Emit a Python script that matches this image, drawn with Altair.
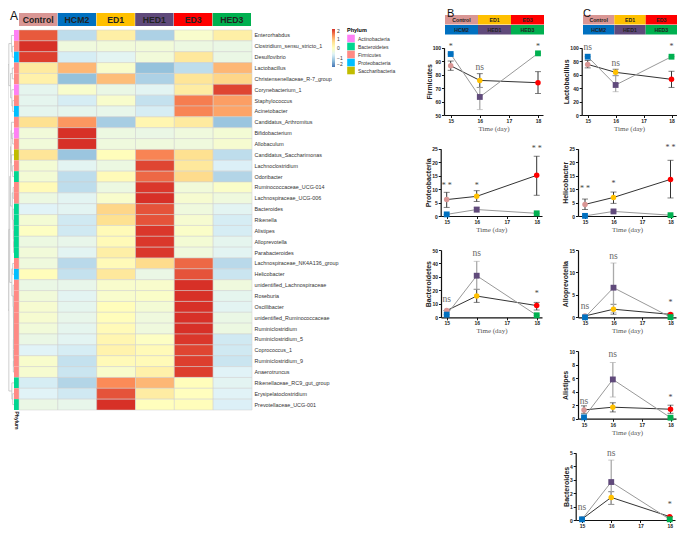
import altair as alt
import pandas as pd

W, H = 669, 524

# ---------- heat map values ----------
groups = ["Control", "HCM2", "ED1", "HED1", "ED3", "HED3"]
genera = ["Enterorhabdus", "Clostridium_sensu_stricto_1", "Desulfovibrio", "Lactobacillus",
          "Christensenellaceae_R-7_group", "Corynebacterium_1", "Staphylococcus", "Acinetobacter",
          "Candidatus_Arthromitus", "Bifidobacterium", "Allobaculum", "Candidatus_Saccharimonas",
          "Lachnoclostridium", "Odoribacter", "Ruminococcaceae_UCG-014", "Lachnospiraceae_UCG-006",
          "Bacteroides", "Rikenella", "Alistipes", "Alloprevotella", "Parabacteroides",
          "Lachnospiraceae_NK4A136_group", "Helicobacter", "unidentified_Lachnospiraceae", "Roseburia",
          "Oscillibacter", "unidentified_Ruminococcaceae", "Ruminiclostridium", "Ruminiclostridium_5",
          "Coprococcus_1", "Ruminiclostridium_9", "Anaerotruncus", "Rikenellaceae_RC9_gut_group",
          "Erysipelatoclostridium", "Prevotellaceae_UCG-001"]
z_control = [1.7, 2.0, 1.9, .45, .3, -.55, -.55, -.55, .65, -.3, -.3, .55, -.25, -.25, .1, -.4, -.65, -.25, -.05, -.4, -.3, -.35, .05, -.45, -.3, -.2, -.2, -.3, -.45, -.65, -.15, -.2, -.75, -.65, -.45]
z_hcm2 = [-.95, -.35, -.75, 1.0, -1.3, -.15, -.75, -.55, 1.25, 2.05, 2.05, -1.25, -.6, -.95, -.95, -.6, -.6, -.8, -.8, -.5, -.6, -1.0, -.9, -.5, -.6, -.55, -.5, -.55, -.6, -.75, -.9, -.85, -1.05, -.8, -.5]
z_ed1 = [.35, -.3, -.6, -.15, .95, -.45, -.15, -.5, -1.15, -.4, -.35, .05, -.4, .1, -.4, -.15, .75, .65, .1, .1, .35, .1, .5, -.15, -.15, .05, .05, .1, .2, .25, .1, -.15, 1.35, 1.75, 2.0]
z_hed1 = [-1.1, -.3, -.3, -1.3, -1.1, -.6, -.9, -.75, .2, -.45, -.35, 1.4, 1.85, 1.6, 1.95, 2.05, 1.75, 1.75, 1.95, 1.95, 1.95, .7, -.45, -.15, -.1, -.25, -.35, -.35, -.05, .1, .1, .3, 1.0, .4, .03]
z_ed3 = [-.15, -.4, .5, -.95, .55, .4, 1.45, 1.4, .45, -.35, -.35, .65, .5, .7, -.3, -.2, -.35, -.2, -.1, -.25, -.35, 1.6, 1.75, 2.05, 2.05, 2.05, 2.05, 2.0, 1.95, 1.85, 1.9, 1.9, .05, .02, .05]
z_hed3 = [.35, -.45, -.45, 1.0, .75, 1.85, 1.2, 1.15, -1.25, -.25, -.2, -.95, -.7, -1.05, -.1, -.35, -.6, -.75, -.75, -.55, -.6, -1.0, -.85, -.35, -.55, -.6, -.45, -.4, -.8, -.8, -.85, -.65, -.6, -.65, -.7]
phylum_names = ["Actinobacteria", "Bacteroidetes", "Firmicutes", "Proteobacteria", "Saccharibacteria"]
phyla = "A F P F F A F P F A F S F B F F B B B B B F P F F F F F F F F F B F B".split()
phylum_code = {"A": "Actinobacteria", "B": "Bacteroidetes", "F": "Firmicutes", "P": "Proteobacteria", "S": "Saccharibacteria"}

# ---------- line panels: days, means and error bars ----------
days = [15, 16, 18]
firm_dark, firm_dark_lo, firm_dark_hi = [86.6, 75.7, 74], [83.2, 70.5, 66], [90.1, 80.7, 82.2]
firm_grey, firm_grey_lo, firm_grey_hi = [95.3, 63.4, 95.8], [95.3, 54, 95.8], [95.3, 70.5, 95.8]
lact_dark, lact_dark_lo, lact_dark_hi = [75.2, 63.4, 53], [70, 58.4, 41], [81, 68, 65]
lact_grey, lact_grey_lo, lact_grey_hi = [86.6, 44.6, 86.6], [86.6, 34.6, 86.6], [86.6, 59, 86.6]
prot_dark, prot_dark_lo, prot_dark_hi = [6.1, 7.3, 15.1], [3.2, 5.4, 7.7], [8.8, 9.4, 22.2]
prot_grey, prot_grey_lo, prot_grey_hi = [.6, 2.4, 1.0], [.6, 1.4, 1.0], [.6, 3.2, 1.0]
heli_dark, heli_dark_lo, heli_dark_hi = [4.3, 6.9, 13.6], [2.4, 4.7, 6.7], [6.3, 8.9, 20.7]
heli_grey, heli_grey_lo, heli_grey_hi = [.05, 1.7, .3], [.05, 1.2, .3], [.05, 2.3, .3]
bctd_dark, bctd_dark_lo, bctd_dark_hi = [5, 15.8, 8.7], [5, 11.1, 5.4], [5, 20.8, 11.1]
bctd_grey, bctd_grey_lo, bctd_grey_hi = [2, 30.9, 1.5], [2, 20.8, 1.5], [2, 41.6, 1.5]
allo_dark, allo_dark_lo, allo_dark_hi = [.3, 1.8, .65], [.3, .7, .4], [.3, 2.9, .9]
allo_grey, allo_grey_lo, allo_grey_hi = [0, 6.6, .05], [0, 1.1, .05], [0, 12.1, .05]
alis_dark, alis_dark_lo, alis_dark_hi = [1.3, 1.7, 1.4], [.8, 1.0, .8], [1.9, 2.35, 2.0]
alis_grey, alis_grey_lo, alis_grey_hi = [.2, 5.8, .15], [.2, 3.2, .15], [.2, 8.3, .15]
bact_dark, bact_dark_lo, bact_dark_hi = [.07, 1.68, .25], [.07, 1.16, .25], [.07, 2.1, .25]
bact_grey, bact_grey_lo, bact_grey_hi = [.05, 2.82, .05], [.05, 1.16, .05], [.05, 4.45, .05]

dark_groups = ["Control", "ED1", "ED3"]
grey_groups = ["HCM2", "HED1", "HED3"]
group_colors = {"Control": "#D99694", "HCM2": "#0070C0", "ED1": "#FFC000", "HED1": "#604A7B", "ED3": "#FF0000", "HED3": "#00B050"}
phylum_colors = ["#FF80F4", "#00D690", "#FF8A85", "#00BFFF", "#C1BC00"]
heat_colors = ["#4575B4", "#91BFDB", "#E0F3F8", "#FFFFBF", "#FEE090", "#FC8D59", "#D73027"]
heat_stops = [-2, -1.333, -.667, 0, .667, 1.333, 2]

# dendrogram: (merge height, child, child); integers are row numbers
top_tree = (12, (6, 0, (4, 1, 2)), (8, (4, 3, 4), (5, 5, (3, 6, 7))))
b_tree = (8, (7, (6, 8, (3, 9, 10)), (6, 11, (3, 12, 13))),
          (4, (2, 14, 15), (2, 16, (1.5, 17, (1.2, 18, (1, 19, 20))))))
c_tree = (5, (3, 21, 22), (2, 23, (1.5, 24, (1.2, 25, (1, 26, (1, 27, (1.5, 28, (1.2, 29, (1.5, 30, 31)))))))))
d_tree = (5, 32, (3, 33, 34))
tree = (14, top_tree, (12, (10, b_tree, c_tree), d_tree))


def walk(node, out):
    if isinstance(node, int):
        return node, 0
    h, a, b = node
    ya, ha = walk(a, out)
    yb, hb = walk(b, out)
    out.append(dict(h1=h, h2=h, y1=ya, y2=yb))
    out.append(dict(h1=ha, h2=h, y1=ya, y2=ya))
    out.append(dict(h1=hb, h2=h, y1=yb, y2=yb))
    return (ya + yb) / 2, h


segments = []
walk(tree, segments)

# ---------- geometry of the figure, in view pixels ----------
HX = [11, 244]
HY = [22, 402]

heat_df = pd.DataFrame([
    dict(genus=g, group=col, z=vals[i])
    for col, vals in zip(groups, [z_control, z_hcm2, z_ed1, z_hed1, z_ed3, z_hed3])
    for i, g in enumerate(genera)
])
strip_df = pd.DataFrame({"genus": genera, "phylum": [phylum_code[p] for p in phyla], "col": "Phylum"})

xh = alt.X("group:N", scale=alt.Scale(domain=groups, range=HX, paddingInner=0, paddingOuter=0), axis=None)
yh = alt.Y("genus:N", scale=alt.Scale(domain=genera, range=HY, paddingInner=0, paddingOuter=0),
           axis=alt.Axis(orient="right", offset=-(W - HX[1]), title=None, domain=False, ticks=False,
                         labelPadding=2, labelFontSize=5.4, labelFont="Liberation Sans", labelColor="#333",
                         labelLimit=200))
heat = alt.Chart(heat_df).mark_rect(stroke="#cfcfcf", strokeWidth=0.5).encode(
    x=xh, y=yh,
    color=alt.Color("z:Q", title=None,
                    scale=alt.Scale(domain=heat_stops, range=heat_colors, clamp=True, interpolate="rgb"),
                    legend=alt.Legend(orient="none", legendX=324, legendY=21, gradientLength=38, gradientThickness=3,
                                      values=[2, 1, 0, -1, -2], labelFontSize=5, labelFont="Liberation Sans",
                                      labelColor="#333", labelOffset=2, direction="vertical")))

strip = alt.Chart(strip_df).mark_rect().encode(
    x=alt.X("col:N", scale=alt.Scale(domain=["Phylum"], range=[6, 11], paddingInner=0, paddingOuter=0),
            axis=alt.Axis(orient="bottom", offset=-(H - HY[1]), title=None, domain=False, ticks=False, labelAngle=90,
                          labelPadding=1, labelFontSize=5, labelFont="Liberation Sans", labelFontWeight="bold",
                          labelColor="#222")),
    y=alt.Y("genus:N", scale=alt.Scale(domain=genera, range=HY, paddingInner=0, paddingOuter=0), axis=None),
    color=alt.Color("phylum:N", scale=alt.Scale(domain=phylum_names, range=phylum_colors),
                    legend=alt.Legend(orient="none", legendX=339, legendY=20, title="Phylum", titleFontSize=5.5,
                                      titleFont="Liberation Sans", titleFontWeight="bold", titlePadding=1,
                                      symbolType="square", symbolSize=58, symbolStrokeWidth=0, rowPadding=0,
                                      labelFontSize=5, labelFont="Liberation Sans", labelColor="#333", labelOffset=3)))

dendro = alt.Chart(pd.DataFrame(segments)).mark_rule(color="#b8b8b8", strokeWidth=0.7).encode(
    x=alt.X("h1:Q", scale=alt.Scale(domain=[0, 14], range=[6, 0]), axis=None),
    x2="h2:Q",
    y=alt.Y("y1:Q", scale=alt.Scale(domain=[-.5, 34.5], range=HY), axis=None),
    y2="y2:Q")

hdr_x = alt.X("group:N", scale=alt.Scale(domain=groups, range=[11, 243], paddingInner=0.01, paddingOuter=0), axis=None)
hdr_y = alt.Y("row:N", scale=alt.Scale(domain=["h"], range=[5, 18], paddingInner=0, paddingOuter=0), axis=None)
hdr_df = pd.DataFrame({"group": groups, "row": "h"})
header = alt.layer(
    alt.Chart(hdr_df).mark_rect().encode(
        x=hdr_x, y=hdr_y,
        color=alt.Color("group:N", scale=alt.Scale(domain=groups, range=[group_colors[g] for g in groups]), legend=None)),
    alt.Chart(hdr_df).mark_text(font="Liberation Sans", fontWeight="bold", fontSize=8.7, color="#222").encode(
        x=hdr_x, y=hdr_y, text="group:N"))


def key_table(rng):
    df = pd.DataFrame({"group": dark_groups + grey_groups, "col": [0, 1, 2] * 2, "row": ["a"] * 3 + ["b"] * 3})
    kx = alt.X("col:O", scale=alt.Scale(domain=[0, 1, 2], range=rng, paddingInner=0, paddingOuter=0), axis=None)
    ky = alt.Y("row:N", scale=alt.Scale(domain=["a", "b"], range=[7, 26.5], paddingInner=0.05, paddingOuter=0), axis=None)
    return alt.layer(
        alt.Chart(df).mark_rect().encode(
            x=kx, y=ky,
            color=alt.Color("group:N", scale=alt.Scale(domain=groups, range=[group_colors[g] for g in groups]), legend=None)),
        alt.Chart(df).mark_text(font="Liberation Sans", fontWeight="bold", fontSize=5.2, color="#222").encode(
            x=kx, y=ky, text="group:N"))


def panel(name, dark, grey, ydom, yticks, notes, geo, time_title=True):
    x0, x15, x18, xend, ytop, ybot = [v - 8 for v in geo]
    k = (x18 - x15) / 3
    xs = alt.Scale(domain=[15 - (x15 - x0) / k, 18 + (xend - x18) / k], range=[x0, xend], nice=False, zero=False)
    ys = alt.Scale(domain=ydom, range=[ybot, ytop], nice=False, zero=False)
    x_axis = alt.Axis(orient="bottom", offset=-(H - ybot), values=[15, 16, 17, 18], format="d", grid=False,
                      title="Time (day)" if time_title else "", titleFont="Liberation Serif", titleFontWeight="normal",
                      titleFontSize=7, titleColor="#555", titlePadding=1,
                      labelFont="Liberation Sans", labelFontWeight="bold", labelFontSize=5, labelColor="#222",
                      labelPadding=1, tickSize=2.5, tickColor="#111", tickWidth=1, domainColor="#111", domainWidth=1.2)
    y_axis = alt.Axis(orient="left", offset=-x0, values=yticks, grid=False, title=name,
                      titleFont="Liberation Sans", titleFontWeight="bold", titleFontSize=7, titleColor="#222",
                      titlePadding=0, labelFont="Liberation Sans", labelFontWeight="bold", labelFontSize=5,
                      labelColor="#222", labelPadding=1, tickSize=2.5, tickColor="#111", tickWidth=1,
                      domainColor="#111", domainWidth=1.2)
    # every child names the same axes, so that the nested layer merges them
    x_e = alt.X("day:Q", scale=xs, axis=x_axis)
    y_e = alt.Y("v:Q", scale=ys, axis=y_axis)
    cs = alt.Color("group:N", scale=alt.Scale(domain=groups, range=[group_colors[g] for g in groups]), legend=None)

    layers = []
    frames = []
    for series, grp, col, ecol, ewd, shape, sz in [(dark, dark_groups, "#333333", "#333333", 1.0, "circle", 30),
                                                   (grey, grey_groups, "#999999", "#aaaaaa", 1.3, "square", 34)]:
        mean, lo, hi = series
        df = pd.DataFrame({"day": days, "v": mean, "lo": lo, "hi": hi, "group": grp})
        frames.append((df, shape, sz))
        layers.append(alt.Chart(df).mark_rule(color=ecol, strokeWidth=ewd).encode(
            x=x_e, y=alt.Y("lo:Q", scale=ys, axis=y_axis, title=name), y2="hi:Q"))
        for end in ["lo", "hi"]:
            layers.append(alt.Chart(df).mark_tick(orient="horizontal", size=6, thickness=0.9, color=ecol).encode(
                x=x_e, y=alt.Y(f"{end}:Q", scale=ys, axis=y_axis, title=name)))
        layers.append(alt.Chart(df).mark_line(color=col, strokeWidth=1.0).encode(x=x_e, y=y_e))
    for df, shape, sz in frames:
        layers.append(alt.Chart(df).mark_point(filled=True, shape=shape, size=sz, opacity=1).encode(
            x=x_e, y=y_e, color=cs))
    ndf = pd.DataFrame(notes, columns=["day", "v", "t"])
    layers.append(alt.Chart(ndf[ndf.t == "ns"]).mark_text(font="Liberation Serif", fontSize=9.5, color="#666").encode(
        x=x_e, y=y_e, text="t:N"))
    layers.append(alt.Chart(ndf[ndf.t != "ns"]).mark_text(font="Liberation Serif", fontSize=8, color="#444", dy=1.5).encode(
        x=x_e, y=y_e, text="t:N"))
    return alt.layer(*layers)


panels = [
    panel("Firmicutes", (firm_dark, firm_dark_lo, firm_dark_hi), (firm_grey, firm_grey_lo, firm_grey_hi),
          [50, 100], [50, 60, 70, 80, 90, 100], [(15, 102, "*"), (16, 85.9, "ns"), (18, 102, "*")],
          (444, 450.7, 538, 543, 47.7, 115)),
    panel("Proteobacteria", (prot_dark, prot_dark_lo, prot_dark_hi), (prot_grey, prot_grey_lo, prot_grey_hi),
          [0, 25], [0, 5, 10, 15, 20, 25], [(15, 11.8, "* *"), (16, 11.8, "*"), (18, 25.4, "* *")],
          (440.7, 446.7, 536.7, 542, 148.7, 216)),
    panel("Bacteroidetes", (bctd_dark, bctd_dark_lo, bctd_dark_hi), (bctd_grey, bctd_grey_lo, bctd_grey_hi),
          [0, 50], [0, 10, 20, 30, 40, 50], [(15, 13.4, "ns"), (16, 47.5, "ns"), (18, 18.3, "*")],
          (441, 446.7, 536.7, 542, 250, 317.3)),
    panel("Lactobacillus", (lact_dark, lact_dark_lo, lact_dark_hi), (lact_grey, lact_grey_lo, lact_grey_hi),
          [0, 100], [0, 20, 40, 60, 80, 100], [(15, 100.5, "ns"), (16, 76.7, "ns"), (18, 104, "*")],
          (581.7, 587.7, 671.5, 676.5, 47.7, 115)),
    panel("Helicobacter", (heli_dark, heli_dark_lo, heli_dark_hi), (heli_grey, heli_grey_lo, heli_grey_hi),
          [0, 25], [0, 5, 10, 15, 20, 25], [(15, 10.6, "* *"), (16, 12.5, "*"), (18, 25.7, "* *")],
          (578, 585, 670.5, 676, 148.7, 216)),
    panel("Alloprevotella", (allo_dark, allo_dark_lo, allo_dark_hi), (allo_grey, allo_grey_lo, allo_grey_hi),
          [0, 15], [0, 5, 10, 15], [(15, 2.5, "ns"), (16, 13.7, "ns"), (18, 3.6, "*")],
          (578, 585, 670.5, 676, 250, 317.3)),
    panel("Alistipes", (alis_dark, alis_dark_lo, alis_dark_hi), (alis_grey, alis_grey_lo, alis_grey_hi),
          [0, 10], [0, 2, 4, 6, 8, 10], [(15, 2.6, "ns"), (16, 9.5, "ns"), (18, 3.25, "*")],
          (578, 584, 670.5, 676, 351, 418.7)),
    panel("Bacteroides", (bact_dark, bact_dark_lo, bact_dark_hi), (bact_grey, bact_grey_lo, bact_grey_hi),
          [0, 5], [0, 1, 2, 3, 4, 5], [(15, .94, "ns"), (16, 4.95, "ns"), (18, 1.21, "*")],
          (575.7, 582, 669.7, 675, 452.7, 520), time_title=False),
]


def letter(t, px, py, fs):
    return alt.Chart(pd.DataFrame({"t": [t]})).mark_text(font="Liberation Sans", fontSize=fs, color="#111",
                                                         baseline="alphabetic", align="left").encode(
        x=alt.value(px), y=alt.value(py), text="t:N")


chart = alt.layer(
    dendro, strip, heat, header,
    key_table([437, 536]), key_table([575, 669]),
    *panels,
    letter("A", 2, 11.5, 12), letter("B", 439, 8.5, 11), letter("C", 575, 8.5, 11),
).resolve_scale(x="independent", y="independent", color="independent"
).resolve_axis(x="independent", y="independent"
).resolve_legend(color="independent"
).properties(width=W, height=H, padding=0, autosize=alt.AutoSizeParams(type="none")
).configure_view(strokeWidth=0)

chart.save("out.html", embed_options={"renderer": "svg", "actions": False})
